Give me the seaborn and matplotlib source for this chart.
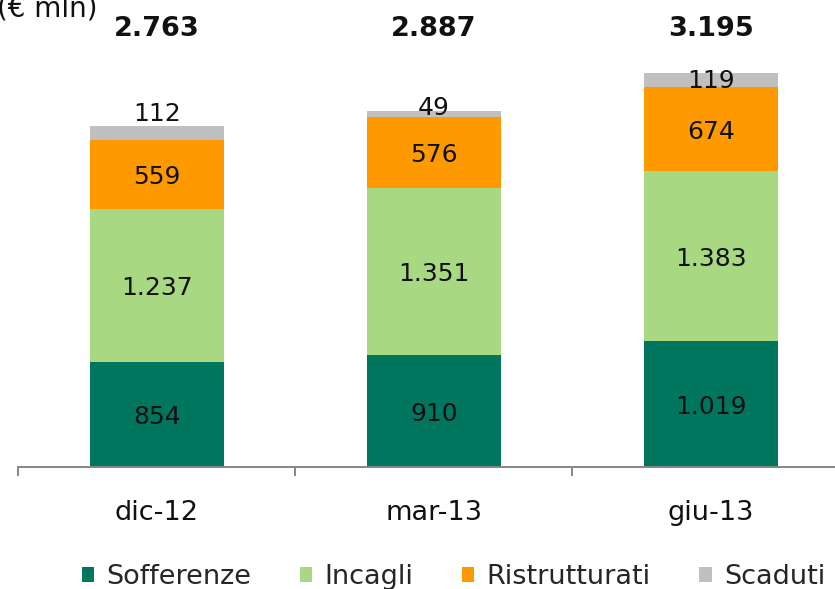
import matplotlib
matplotlib.use("Agg")
import matplotlib.pyplot as plt
import seaborn as sns
import pandas as pd
import numpy as np
from matplotlib.patches import Patch

categories = ["dic-12", "mar-13", "giu-13"]
series_names = ["Sofferenze", "Incagli", "Ristrutturati", "Scaduti"]
sofferenze = [854, 910, 1019]
incagli = [1237, 1351, 1383]
ristrutturati = [559, 576, 674]
scaduti = [112, 49, 119]
totals = [2763, 2887, 3195]
unit_label = "(€ mln)"

colors = ["#00765E", "#A8D982", "#FF9900", "#C0C0C0"]
scaduti_label_offset_pt = [14, 4, -1]


def fmt(v):
    return f"{v:,}".replace(",", ".")


sns.set_theme(style="white")
plt.rcParams["font.family"] = ["DejaVu Sans"]

fig = plt.figure(figsize=(8.35, 5.89), dpi=100)
ax = fig.add_axes([18.3 / 835, 122 / 589, 831 / 835, 467 / 589])

series = [sofferenze, incagli, ristrutturati, scaduti]
cum = np.cumsum(np.array(series), axis=0)

# draw from tallest cumulative to shortest (stacking)
for i in range(len(series) - 1, -1, -1):
    df = pd.DataFrame({"cat": categories, "val": cum[i]})
    sns.barplot(data=df, x="cat", y="val", color=colors[i], width=0.484,
                saturation=1, ax=ax, linewidth=0, order=categories)

ax.set_xlim(-0.5, 2.5)
ax.set_ylim(0, 3784)

# segment labels
for i, s in enumerate(series):
    base = cum[i] - np.array(s)
    for j, v in enumerate(s):
        yc = base[j] + v / 2
        off = scaduti_label_offset_pt[j] if i == 3 else -2
        ax.annotate(fmt(v), (j, yc), xytext=(0, off), textcoords="offset points",
                    ha="center", va="center", fontsize=18, color="#111111")

# totals
for j, t in enumerate(totals):
    ax.text(j, 3545, fmt(t), ha="center", va="center", fontsize=19.5,
            fontweight="bold", color="#111111")

# axes styling
for sp in ["top", "right", "left"]:
    ax.spines[sp].set_visible(False)
ax.spines["bottom"].set_color("#868686")
ax.spines["bottom"].set_linewidth(1.4)
ax.set_yticks([])
ax.set_xlabel("")
ax.set_ylabel("")
ax.set_xticks([0, 1, 2])
ax.set_xticklabels(categories, fontsize=19.5, color="#111111")
ax.tick_params(axis="x", which="major", length=0, pad=23.5)
ax.set_xticks([-0.5, 0.5, 1.5, 2.5], minor=True)
ax.tick_params(axis="x", which="minor", length=6.5, width=1.4, color="#868686",
               bottom=True)

fig.text(-0.004, (589 - 17) / 589, unit_label, fontsize=20, va="baseline",
         ha="left", color="#111111")

handles = [Patch(facecolor=c, edgecolor="none") for c in colors]
fig.legend(handles, series_names, loc="center left",
           bbox_to_anchor=(82 / 835, 12 / 589), ncol=4, frameon=False,
           fontsize=19.5, handlelength=0.45, handleheight=0.45,
           handletextpad=0.45, columnspacing=1.8, borderaxespad=0,
           borderpad=0)

fig.savefig("out.png", dpi=100)
